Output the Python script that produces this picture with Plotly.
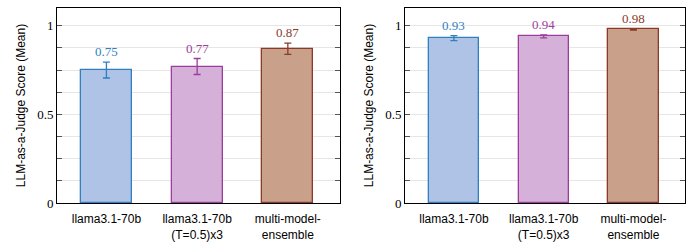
import plotly.graph_objects as go
from plotly.subplots import make_subplots

categories = ["llama3.1-70b", "llama3.1-70b<br>(T=0.5)x3", "multi-model-<br>ensemble"]
left_values = [0.75, 0.77, 0.87]
left_errors = [0.045, 0.045, 0.032]
right_values = [0.93, 0.94, 0.98]
right_errors = [0.014, 0.008, 0.004]
value_labels_left = ["0.75", "0.77", "0.87"]
value_labels_right = ["0.93", "0.94", "0.98"]
fill_colors = ["#aec3e6", "#d5b0d9", "#c9a08a"]
edge_colors = ["#2f7fc1", "#9c3d9c", "#8b3a2a"]
ytick_vals = [0, 0.125, 0.25, 0.375, 0.5, 0.625, 0.75, 0.875, 1.0]
ytick_text = ["0", "", "", "", "0.5", "", "", "", "1"]

fig = make_subplots(rows=1, cols=2)

serif = "Liberation Serif, Times New Roman, serif"
sans = "Liberation Sans, Arial, sans-serif"

panels = [(1, left_values, left_errors, value_labels_left),
          (2, right_values, right_errors, value_labels_right)]

for col, vals, errs, labs in panels:
    for i, cat in enumerate(categories):
        fig.add_trace(go.Bar(
            x=[i], y=[vals[i]], width=0.56,
            marker=dict(color=fill_colors[i], line=dict(color=edge_colors[i], width=1.3)),
            error_y=dict(type="data", array=[errs[i]], color=edge_colors[i], thickness=1.3, width=3.5),
            showlegend=False), row=1, col=col)
        xref = "x" if col == 1 else "x2"
        yref = "y" if col == 1 else "y2"
        fig.add_annotation(x=i, y=vals[i] + errs[i], xref=xref, yref=yref,
                           text=labs[i], showarrow=False, yanchor="bottom", yshift=1,
                           font=dict(family=serif, size=13, color=edge_colors[i]))

domains = [[57/686, 340/686], [405/686, 685/686]]
for col in (1, 2):
    fig.update_xaxes(domain=domains[col-1], range=[-0.545, 2.575], automargin=False,
                     tickvals=[0, 1, 2], ticktext=categories, ticks="",
                     ticklabelstandoff=5,
                     showline=True, linecolor="black", linewidth=1, mirror=True,
                     showgrid=False, zeroline=False,
                     tickfont=dict(family=sans, size=12, color="black"), row=1, col=col)
    fig.update_yaxes(domain=[47/250, 242/250], range=[0, 1.1], automargin=False,
                     tickvals=ytick_vals, ticktext=ytick_text,
                     ticks="inside", ticklen=5, tickcolor="#555555", tickwidth=1,
                     showline=True, linecolor="black", linewidth=1, mirror="ticks",
                     showgrid=True, gridcolor="#e6e6e6", gridwidth=1, zeroline=False,
                     tickfont=dict(family=serif, size=13, color="black"),
                     title=dict(text="LLM-as-a-Judge Score (Mean)", standoff=8,
                                font=dict(family=sans, size=12, color="black")),
                     row=1, col=col)

fig.update_layout(width=686, height=250, margin=dict(l=0, r=0, t=0, b=0),
                  plot_bgcolor="white", paper_bgcolor="white", bargap=0)

fig.write_html("out.html")
